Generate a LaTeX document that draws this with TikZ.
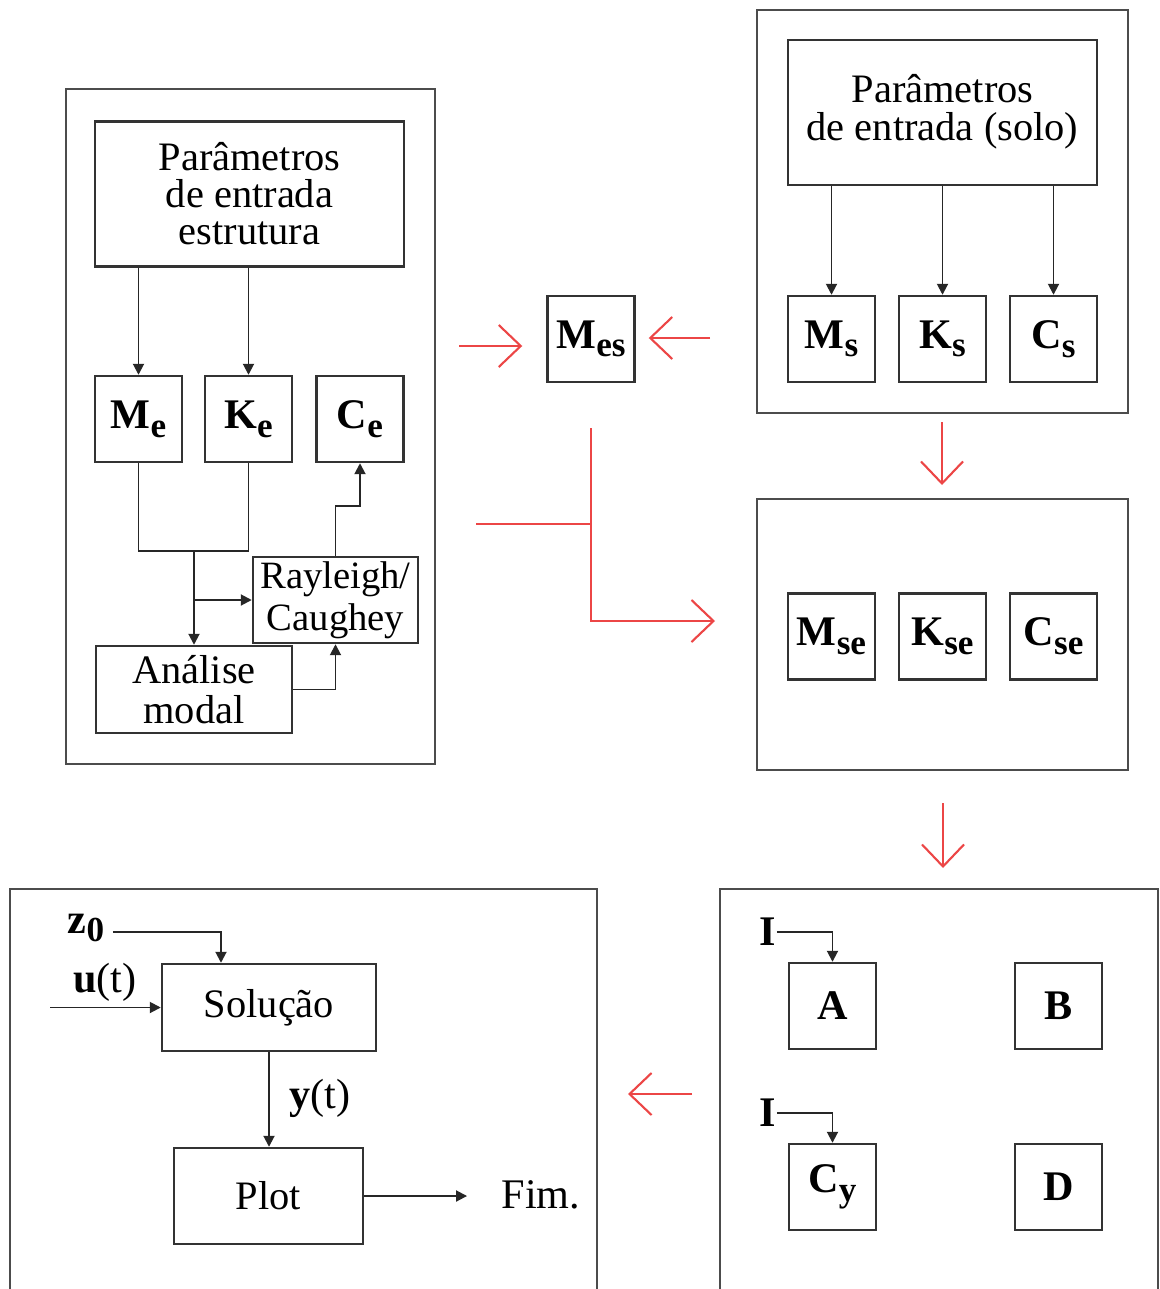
\documentclass[tikz,border=0pt]{standalone}
\usepackage{fontspec}
\setmainfont{Liberation Serif}
\usepackage{tikz}
\usetikzlibrary{positioning, arrows.meta, calc}

\definecolor{flowred}{RGB}{236,70,70}

% bold matrix name with a lowered subscript
\newcommand{\mtx}[2]{\textbf{#1}\raisebox{-0.45ex}{\fontsize{10}{10}\selectfont\textbf{#2}}}

\tikzset{
    box/.style={draw=black!80, line width=0.7pt, inner sep=0pt, align=center,
        font=\fontsize{11.5}{10.5}\selectfont},
    mbox/.style={box, minimum width=8.7mm, minimum height=8.6mm,
        font=\fontsize{12}{12}\selectfont},
    frame/.style={draw=black!70, line width=0.7pt},
    link/.style={black!85, line width=0.55pt, -{Triangle[length=1.1mm,width=1.1mm]}},
    flow/.style={flowred, line width=0.6pt},
    flowarrow/.style={flow, -{Straight Barb[length=2.2mm,width=4.2mm]}}
}

\begin{document}
\begin{tikzpicture}[x=0.1mm, y=-0.1mm]
    \useasboundingbox (0,0) rectangle (1160,1289);

    % frames
    \draw[frame] (66,89) rectangle (435,764);
    \draw[frame] (757,10) rectangle (1128,413);
    \draw[frame] (757,499) rectangle (1128,770);
    \draw[frame] (10,1289) |- (597,889) -- (597,1289);
    \draw[frame] (720,1289) |- (1158,889) -- (1158,1289);

    % structure
    \node[box, minimum width=30.9mm, minimum height=14.5mm] (parE) at (249.5,194)
        {Parâmetros\\de entrada\\estrutura};
    \foreach \name/\x/\m in {me/138.5/M, ke/248.5/K, ce/360/C}
    {
        \node[mbox] (\name) at (\x,419) {\mtx{\m}{e}};
    }
    \node[box, minimum width=16.5mm, minimum height=8.6mm,
        font=\fontsize{11}{12}\selectfont] (ray) at (335.5,600) {Rayleigh/\\Caughey};
    \node[box, minimum width=19.6mm, minimum height=8.7mm,
        font=\fontsize{11.5}{11.5}\selectfont] (modal) at (194,689.5) {Análise\\modal};

    \draw[link] (parE.south -| me) -- (me.north);
    \draw[link] (parE.south -| ke) -- (ke.north);
    \coordinate (mk) at (194,551);
    \draw[link, -] (me.south) |- (mk) -| (ke.south);
    \draw[link] (mk) -- (modal.north);
    \draw[link] (mk |- ray.west) -- (ray.west);
    \draw[link] (modal.east) -| (ray.south);
    \draw[link] (ray.north) -- ++(0,-50) -| (ce.south);

    % soil
    \node[box, minimum width=30.9mm, minimum height=14.5mm] (parS) at (942.5,112.5)
        {\raisebox{1.6mm}{\def\arraystretch{0.92}\begin{tabular}{@{}c@{}}Parâmetros\\de entrada (solo)\end{tabular}}};
    \foreach \name/\x/\m in {ms/831.5/M, ks/942.5/K, cs/1053.5/C}
    {
        \node[mbox] (\name) at (\x,339) {\mtx{\m}{s}};
        \draw[link] (parS.south -| \name) -- (\name.north);
    }

    % coupled system
    \node[mbox] (mes) at (591,339) {\mtx{M}{es}};
    \foreach \name/\x/\m in {mse/831.5/M, kse/942.5/K, cse/1053.5/C}
    {
        \node[mbox] (\name) at (\x,636.5) {\mtx{\m}{se}};
    }

    % state space
    \foreach \name/\x/\y/\txt in {ma/832.5/1006/A, mb/1058.5/1006/B,
                                  mc/832.5/1187/{\mtx{C}{y}}, md/1058.5/1187/D}
    {
        \node[mbox, font=\fontsize{12}{12}\selectfont\bfseries] (\name) at (\x,\y) {\txt};
    }
    \node[font=\fontsize{12}{12}\selectfont\bfseries, inner sep=0pt] (ia) at (768,932) {I};
    \node[font=\fontsize{12}{12}\selectfont\bfseries, inner sep=0pt] (ic) at (768,1113) {I};
    \draw[link] (ia.east) -| (ma.north);
    \draw[link] (ic.east) -| (mc.north);

    % solution
    \node[box, minimum width=21.4mm, minimum height=8.7mm] (sol) at (269,1007.5) {Solução};
    \node[box, minimum width=18.9mm, minimum height=9.6mm] (plot) at (268.5,1196) {Plot};
    \node[font=\fontsize{12}{12}\selectfont, inner sep=0pt] (zo) at (86,928) {\mtx{z}{0}};
    \node[font=\fontsize{12}{12}\selectfont, inner sep=0pt] (ut) at (105,982) {\textbf{u}(t)};
    \node[font=\fontsize{12}{12}\selectfont, inner sep=0pt] (yt) at (320,1098) {\textbf{y}(t)};
    \node[font=\fontsize{12}{12}\selectfont, inner sep=0pt] (fim) at (541,1195) {Fim.};
    \coordinate (uin) at (50,1007.5);
    \draw[link] ([xshift=0.8mm]zo.east |- 0,932) -| ([xshift=-4.8mm]sol.north);
    \draw[link] (uin) -- (sol.west);
    \draw[link] (sol.south) -- (sol.south |- plot.north);
    \draw[link] (plot.east) -- ([xshift=-3.4mm]fim.west |- plot.east);

    % red flow between the blocks
    \coordinate (toMes) at (459,346);
    \coordinate (fromS) at (710,338);
    \coordinate (tee) at (476,524);
    \coordinate (bus) at (591,428);
    \coordinate (busEnd) at (591,621);
    \draw[flowarrow, shorten >=2.4mm] (toMes) -- (toMes -| mes.west);
    \draw[flowarrow, shorten >=1.3mm] (fromS) -- (fromS -| mes.east);
    \draw[flow] (tee) -- (tee -| bus);
    \draw[flowarrow] (bus) -- (busEnd) -- (715,621);
    \draw[flowarrow] (942,422) -- (942,485);
    \draw[flowarrow] (943,803) -- (943,868);
    \draw[flowarrow] (692,1094) -- (628,1094);
\end{tikzpicture}
\end{document}
